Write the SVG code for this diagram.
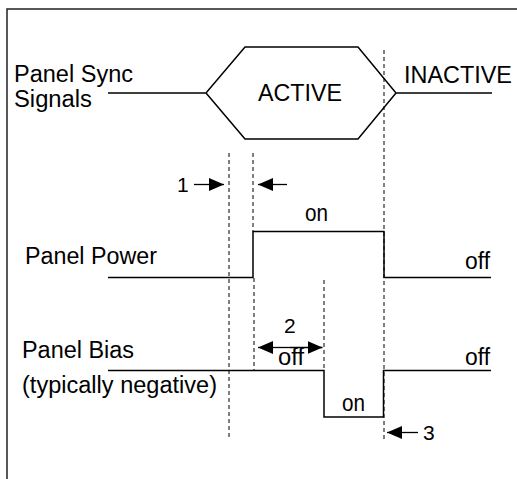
<svg xmlns="http://www.w3.org/2000/svg" width="517" height="479" viewBox="0 0 517 479">
<defs>
<style>
text{font-family:"Liberation Sans",Arial,sans-serif;font-size:23px;fill:#000}
text.n{font-size:21px}
.w{fill:none;stroke:#000;stroke-width:1.5}
.d{fill:none;stroke:#000;stroke-width:1;stroke-dasharray:4 3}
.a{fill:none;stroke:#000;stroke-width:1.3}
.frame{fill:none;stroke:#222;stroke-width:1.5}
</style>
<marker id="ah" viewBox="0 0 15 13" refX="15" refY="6.5" markerWidth="15" markerHeight="13" markerUnits="userSpaceOnUse" orient="auto">
<path d="M0,0 L15,6.5 L0,13 Z" fill="#000"/>
</marker>
</defs>
<rect width="517" height="479" fill="#fff"/>
<g id="frame">
<path class="frame" d="M7,479 V9 H517"/>
</g>
<g id="sync">
<text x="14" y="82" textLength="119" lengthAdjust="spacingAndGlyphs">Panel Sync</text>
<text x="14" y="107" textLength="78" lengthAdjust="spacingAndGlyphs">Signals</text>
<path class="w" d="M108,93 H206 L245,47 H358 L396,93 L358,139 H245 L206,93 M396,93 H492"/>
<text x="258" y="101" textLength="84" lengthAdjust="spacingAndGlyphs">ACTIVE</text>
<text x="404" y="83" textLength="108" lengthAdjust="spacingAndGlyphs">INACTIVE</text>
</g>
<g id="power">
<text x="25" y="263.5" textLength="132" lengthAdjust="spacingAndGlyphs">Panel Power</text>
<path class="w" d="M108,277.5 H253 V231.5 H384 V277.5 H491"/>
<text x="305" y="221" textLength="23" lengthAdjust="spacingAndGlyphs">on</text>
<text x="465" y="269" textLength="25" lengthAdjust="spacingAndGlyphs">off</text>
</g>
<g id="bias">
<text x="22" y="358" textLength="112" lengthAdjust="spacingAndGlyphs">Panel Bias</text>
<text x="22" y="393" textLength="195" lengthAdjust="spacingAndGlyphs">(typically negative)</text>
<path class="w" d="M108,370.5 H324 V417 H383.5 V370.5 H491"/>
<text x="278" y="365" textLength="26" lengthAdjust="spacingAndGlyphs">off</text>
<text x="342" y="411" textLength="23" lengthAdjust="spacingAndGlyphs">on</text>
<text x="465" y="365" textLength="25" lengthAdjust="spacingAndGlyphs">off</text>
</g>
<g id="connectors">
<line class="d" x1="229" y1="153" x2="229" y2="440"/>
<line class="d" x1="253" y1="153" x2="253" y2="231"/>
<line class="d" x1="254" y1="278" x2="254" y2="370"/>
<line class="d" x1="324" y1="280" x2="324" y2="370"/>
<line class="d" x1="384" y1="50" x2="384" y2="440"/>
<line class="a" x1="194" y1="184.5" x2="224" y2="184.5" marker-end="url(#ah)"/>
<line class="a" x1="287" y1="184.5" x2="258" y2="184.5" marker-end="url(#ah)"/>
<line class="a" x1="290" y1="347.5" x2="258" y2="347.5" marker-end="url(#ah)"/>
<line class="a" x1="290" y1="347.5" x2="322.5" y2="347.5" marker-end="url(#ah)"/>
<line class="a" x1="418" y1="432.5" x2="387" y2="432.5" marker-end="url(#ah)"/>
<text class="n" x="177" y="191.5">1</text>
<text class="n" x="284" y="333">2</text>
<text class="n" x="423" y="439.5">3</text>
</g>
</svg>
